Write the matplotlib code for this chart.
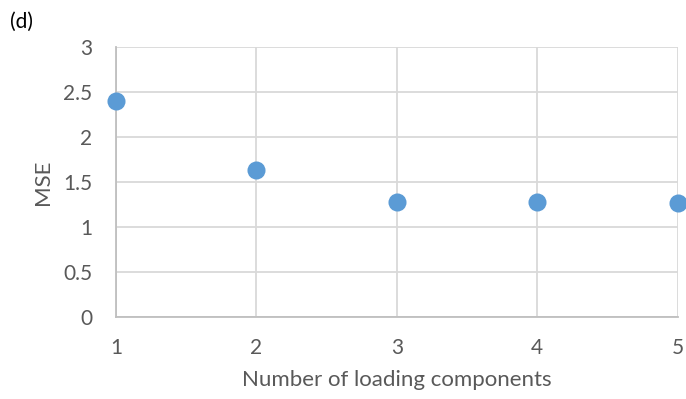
import matplotlib
matplotlib.use("Agg")
import matplotlib.pyplot as plt

# data
components = [1, 2, 3, 4, 5]
mse = [2.40, 1.63, 1.28, 1.28, 1.27]
yticks = [0, 0.5, 1, 1.5, 2, 2.5, 3]
ytick_labels = ["0", "0.5", "1", "1.5", "2", "2.5", "3"]

plt.rcParams['font.family'] = ['Lato', 'DejaVu Sans']

fig = plt.figure(figsize=(6.86, 3.99), dpi=100)
ax = fig.add_axes([0.169, 0.2055, 0.819, 0.6765])

ax.scatter(components, mse, s=13 ** 2, color='#5B9BD5', zorder=3, clip_on=False, linewidths=0)

ax.set_xlim(1, 5)
ax.set_ylim(0, 3)
ax.set_xticks(components)
ax.set_yticks(yticks)
ax.set_yticklabels(ytick_labels)
ax.grid(True, color='#D9D9D9', linewidth=1.3)
ax.set_axisbelow(True)

for side in ['top', 'right']:
    ax.spines[side].set_visible(False)
for side in ['left', 'bottom']:
    ax.spines[side].set_color('#BFBFBF')
    ax.spines[side].set_linewidth(1.3)

ax.tick_params(length=0, labelsize=15, labelcolor='#595959')
ax.tick_params(axis='y', pad=17)
ax.tick_params(axis='x', pad=15)
ax.set_xlabel("Number of loading components", fontsize=16, color='#595959', labelpad=9)
ax.set_ylabel("MSE", fontsize=16, color='#595959', labelpad=7)

fig.text(0.014, 0.93, "(d)", fontsize=15, color='black')

fig.savefig("out.png", dpi=100)
